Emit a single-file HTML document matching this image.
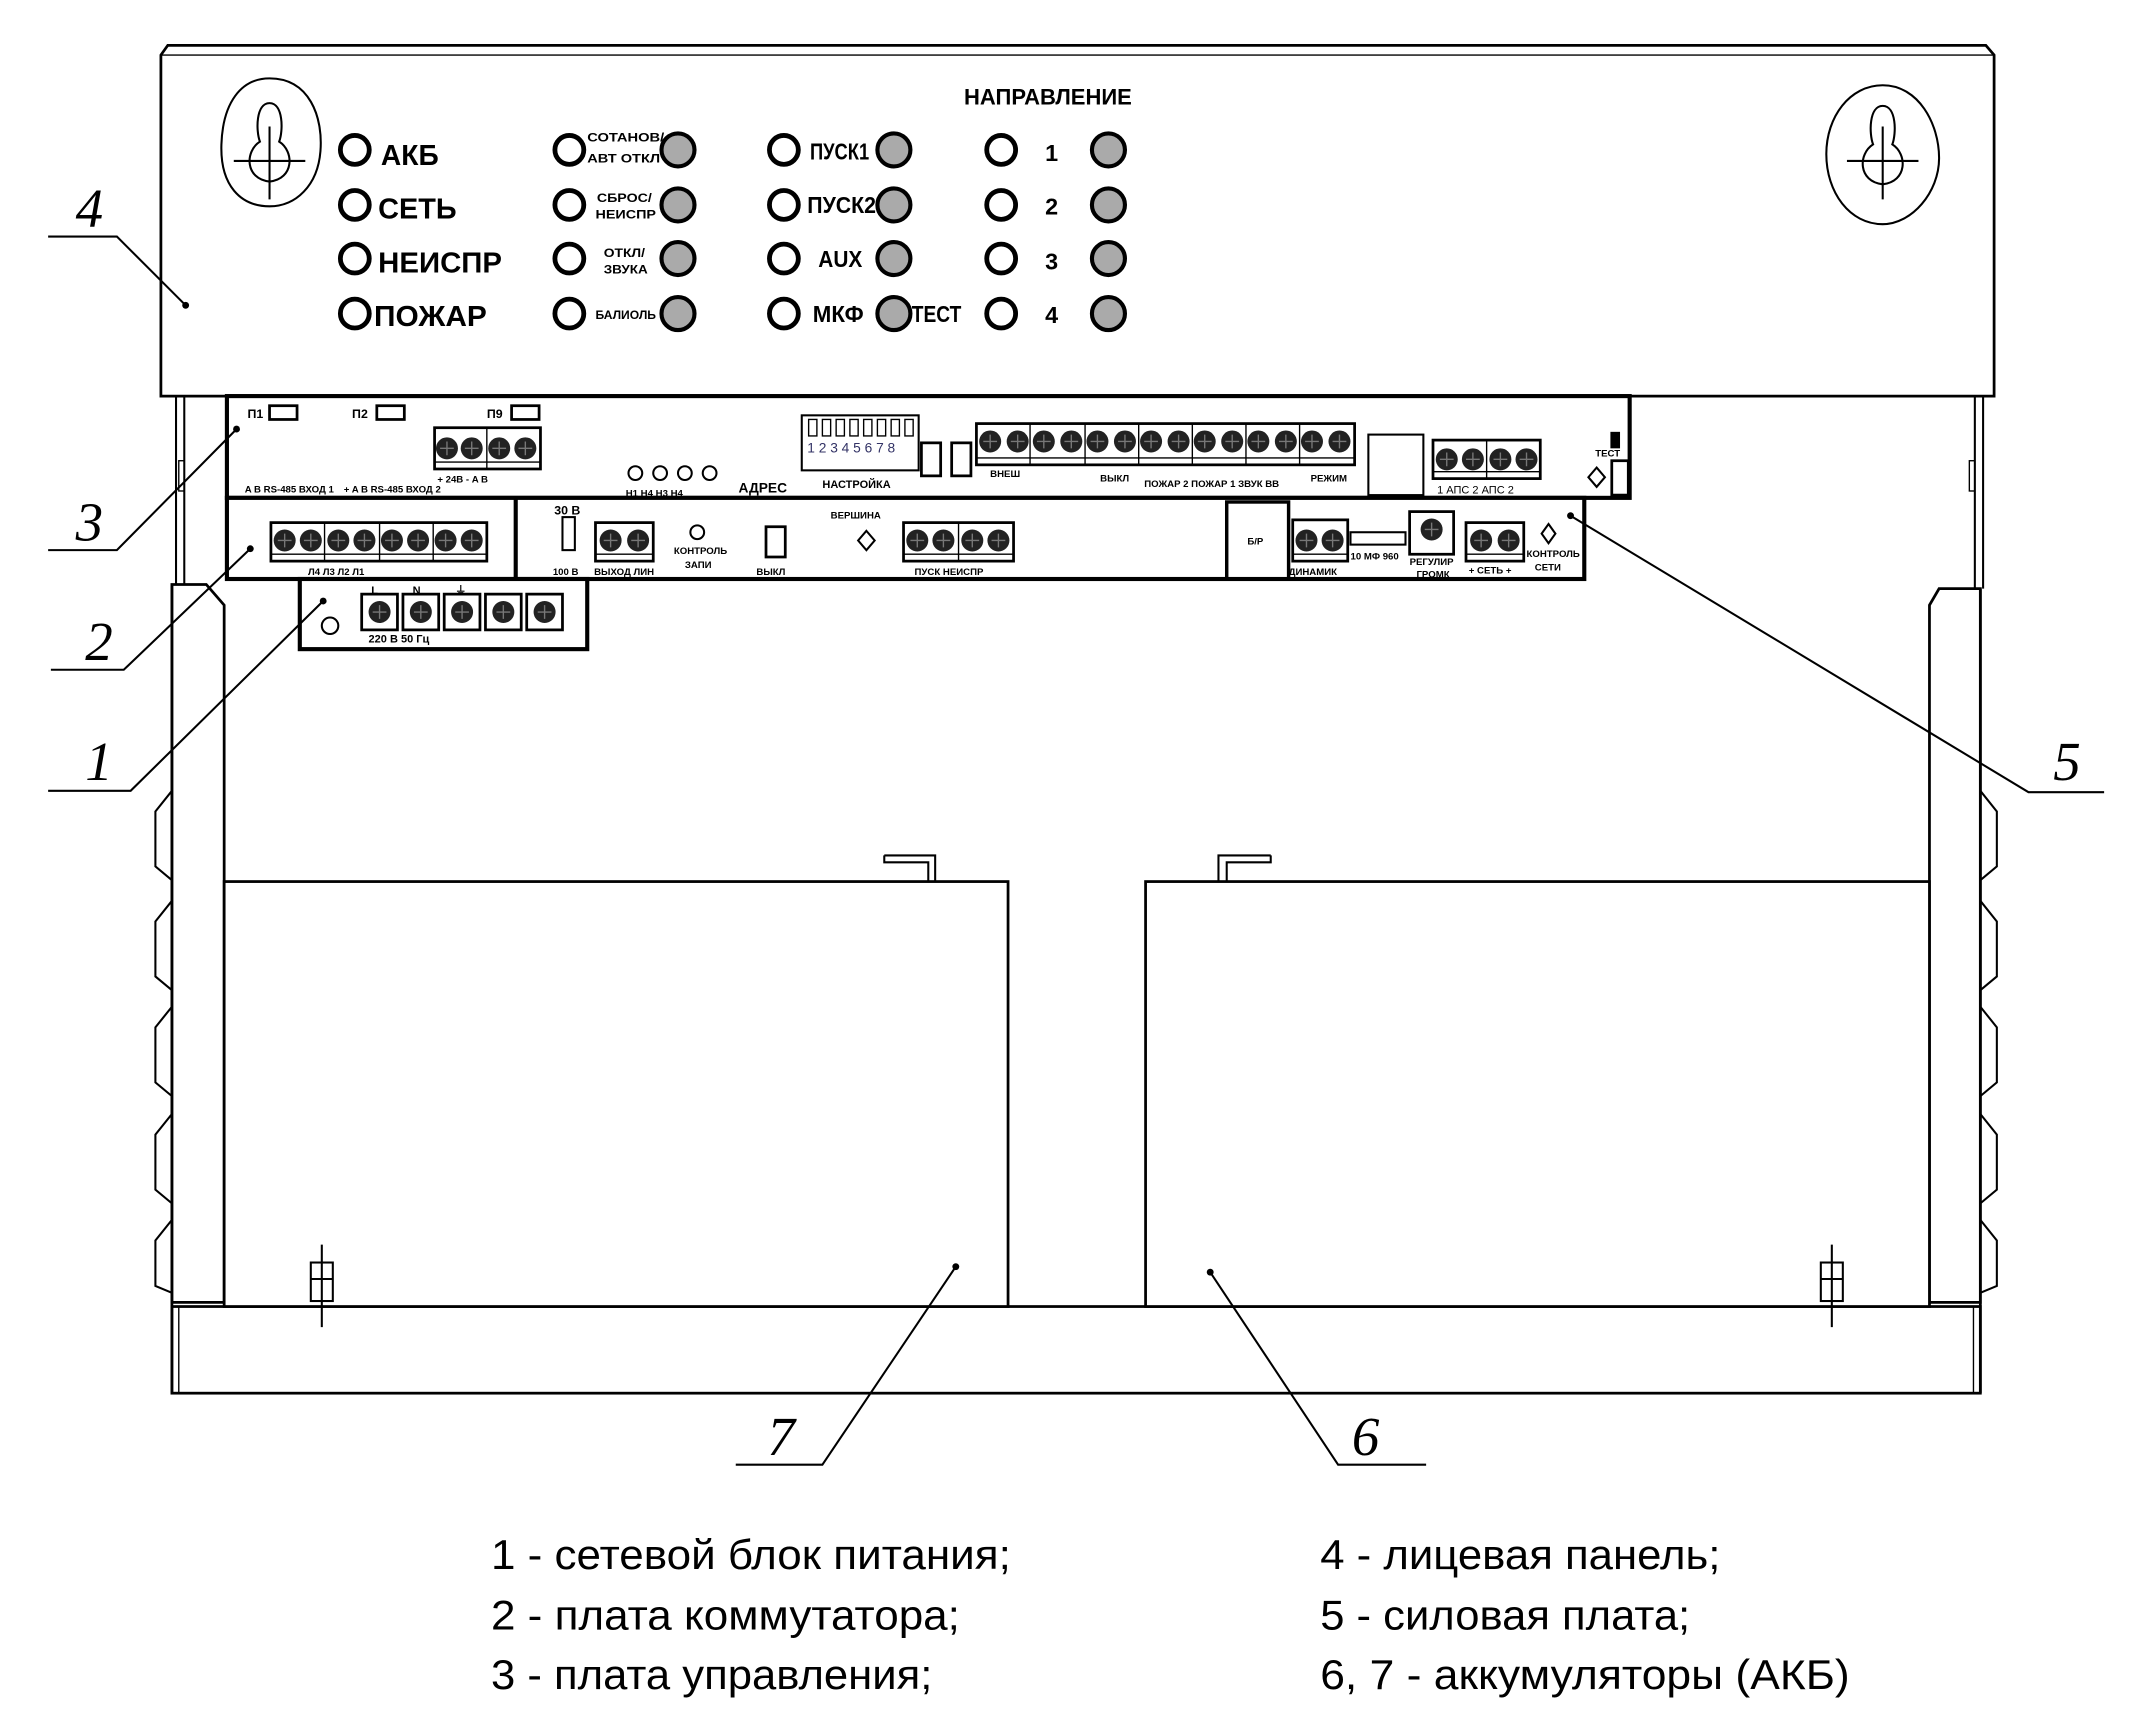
<!DOCTYPE html>
<html><head><meta charset="utf-8"><style>
html,body{margin:0;padding:0;background:#fff}
svg{display:block}
text{font-family:"Liberation Sans","DejaVu Sans",sans-serif}
.b{font-weight:bold}
.n{font-family:"Liberation Serif",serif;font-style:italic;font-size:40px}
.lg{font-size:30px}
</style></head><body>
<svg width="2155" height="1726" viewBox="0 0 1567 1255" preserveAspectRatio="none" xmlns="http://www.w3.org/2000/svg">
<defs>
<g id="s"><circle r="8" fill="#222"/><path d="M-5 0H5M0 -5V5" stroke="#777" stroke-width="1"/></g>
<g id="led"><circle r="10.5" fill="#fff" stroke="#000" stroke-width="3.5"/></g>
<g id="gled"><circle r="12" fill="#aaa" stroke="#000" stroke-width="3"/></g>
</defs>
<g fill="none" stroke="#000" stroke-width="2">
<path d="M128 288V425M134 288V425M1436 288V428M1442 288V428" stroke-width="1.5"/>
<rect x="130" y="335" width="4" height="22" stroke-width="1"/>
<rect x="1432" y="335" width="4" height="22" stroke-width="1"/>
<path d="M125 425H150L163 440V947H125Z"/>
<path d="M1440 428H1410L1403 440V947H1440Z"/>
<path d="M125 425V1013M1440 428V1013"/>
<path d="M125 575L113 590V630L125 640M125 655L113 670V710L125 720M125 732L113 747V787L125 797M125 810L113 825V865L125 875M125 887L113 902V935L125 940" stroke-width="1.5"/>
<path d="M1440 575L1452 590V630L1440 640M1440 655L1452 670V710L1440 720M1440 732L1452 747V787L1440 797M1440 810L1452 825V865L1440 875M1440 887L1452 902V935L1440 940" stroke-width="1.5"/>
<rect x="125" y="950" width="1315" height="63"/>
<path d="M130 950V1013M1435 950V1013" stroke-width="1"/>
<rect x="163" y="641" width="570" height="309" fill="#fff"/>
<rect x="833" y="641" width="570" height="309" fill="#fff"/>
<path d="M643 622H680V641M643 622V627H675V641" stroke-width="1.5"/>
<path d="M924 622H886V641M924 622V627H892V641" stroke-width="1.5"/>
<rect x="226" y="918" width="16" height="28" stroke-width="1.5"/>
<path d="M234 905V965M226 930H242" stroke-width="1.5"/>
<rect x="1324" y="918" width="16" height="28" stroke-width="1.5"/>
<path d="M1332 905V965M1324 930H1340" stroke-width="1.5"/>
<path d="M117 288V40L122 33H1444L1450 40V288Z" fill="#fff"/>
<path d="M117 40H1450" stroke-width="1"/>
<path d="M196 57C225 57 235 85 233 110C231 135 215 150 196 150C175 150 160 135 161 105C162 75 175 57 196 57Z" stroke-width="1.5"/>
<path d="M196 75C186 75 186 95 189 103C178 110 178 130 196 132C214 130 214 110 203 103C206 95 206 75 196 75Z" stroke-width="1.5"/>
<path d="M170 117H222M196 92V145" stroke-width="1.5"/>
<path d="M1369 62C1395 62 1410 90 1410 115C1410 140 1390 163 1369 163C1345 163 1328 140 1328 112C1328 85 1345 62 1369 62Z" stroke-width="1.5"/>
<path d="M1369 77C1359 77 1359 97 1362 105C1351 112 1351 132 1369 134C1387 132 1387 112 1376 105C1379 97 1379 77 1369 77Z" stroke-width="1.5"/>
<path d="M1343 117H1395M1369 92V145" stroke-width="1.5"/>
<rect x="165" y="288" width="1020" height="74" fill="#fff" stroke-width="3"/>
<rect x="165" y="362" width="987" height="59" fill="#fff" stroke-width="3"/>
<path d="M375 362V421" stroke-width="3"/>
<rect x="892" y="365" width="45" height="56" stroke-width="2.5"/>
<rect x="218" y="421" width="209" height="51" fill="#fff" stroke-width="3"/>
<g stroke-width="1.5">
<path d="M35 172H85L135 222"/>
<path d="M35 400H85L172 312"/>
<path d="M37 487H90L182 399"/>
<path d="M35 575H95L235 437"/>
<path d="M1530 576H1475L1142 375"/>
<path d="M535 1065H598L695 921"/>
<path d="M1037 1065H973L880 925"/>
</g>
</g>
<g fill="#000">
<circle cx="135" cy="222" r="2.5"/><circle cx="172" cy="312" r="2.5"/><circle cx="182" cy="399" r="2.5"/><circle cx="235" cy="437" r="2.5"/><circle cx="1142" cy="375" r="2.5"/><circle cx="695" cy="921" r="2.5"/><circle cx="880" cy="925" r="2.5"/>
</g>
<text class="n" x="55" y="165">4</text>
<text class="n" x="55" y="393">3</text>
<text class="n" x="62" y="480">2</text>
<text class="n" x="62" y="567">1</text>
<text class="n" x="1493" y="567">5</text>
<text class="n" x="558" y="1058">7</text>
<text class="n" x="983" y="1058">6</text>
<g>
<use href="#led" x="258" y="109"/><use href="#led" x="258" y="149"/><use href="#led" x="258" y="188"/><use href="#led" x="258" y="228"/>
<use href="#led" x="414" y="109"/><use href="#led" x="414" y="149"/><use href="#led" x="414" y="188"/><use href="#led" x="414" y="228"/>
<use href="#gled" x="493" y="109"/><use href="#gled" x="493" y="149"/><use href="#gled" x="493" y="188"/><use href="#gled" x="493" y="228"/>
<use href="#led" x="570" y="109"/><use href="#led" x="570" y="149"/><use href="#led" x="570" y="188"/><use href="#led" x="570" y="228"/>
<use href="#gled" x="650" y="109"/><use href="#gled" x="650" y="149"/><use href="#gled" x="650" y="188"/><use href="#gled" x="650" y="228"/>
<use href="#led" x="728" y="109"/><use href="#led" x="728" y="149"/><use href="#led" x="728" y="188"/><use href="#led" x="728" y="228"/>
<use href="#gled" x="806" y="109"/><use href="#gled" x="806" y="149"/><use href="#gled" x="806" y="188"/><use href="#gled" x="806" y="228"/>
</g>
<g class="b" font-size="21">
<text x="277" y="120" textLength="42" lengthAdjust="spacingAndGlyphs">АКБ</text>
<text x="275" y="159" textLength="57" lengthAdjust="spacingAndGlyphs">СЕТЬ</text>
<text x="275" y="198" textLength="90" lengthAdjust="spacingAndGlyphs">НЕИСПР</text>
<text x="272" y="237" textLength="82" lengthAdjust="spacingAndGlyphs">ПОЖАР</text>
</g>
<g class="b" font-size="9">
<text x="427" y="103" textLength="56" lengthAdjust="spacingAndGlyphs">СОТАНОВ/</text>
<text x="427" y="118" textLength="53" lengthAdjust="spacingAndGlyphs">АВТ ОТКЛ</text>
<text x="434" y="147" textLength="40" lengthAdjust="spacingAndGlyphs">СБРОС/</text>
<text x="433" y="159" textLength="44" lengthAdjust="spacingAndGlyphs">НЕИСПР</text>
<text x="439" y="187" textLength="30" lengthAdjust="spacingAndGlyphs">ОТКЛ/</text>
<text x="439" y="199" textLength="32" lengthAdjust="spacingAndGlyphs">ЗВУКА</text>
<text x="433" y="232" textLength="44" lengthAdjust="spacingAndGlyphs">БАЛИОЛЬ</text>
</g>
<g class="b" font-size="17">
<text x="589" y="116" textLength="43" lengthAdjust="spacingAndGlyphs">ПУСК1</text>
<text x="587" y="155" textLength="50" lengthAdjust="spacingAndGlyphs">ПУСК2</text>
<text x="595" y="194" textLength="32" lengthAdjust="spacingAndGlyphs">AUX</text>
<text x="591" y="234" textLength="37" lengthAdjust="spacingAndGlyphs">МКФ</text>
<text x="663" y="234" textLength="36" lengthAdjust="spacingAndGlyphs">ТЕСТ</text>
<text x="760" y="117">1</text><text x="760" y="156">2</text><text x="760" y="196">3</text><text x="760" y="235">4</text>
<text x="701" y="76" font-size="16" textLength="122" lengthAdjust="spacingAndGlyphs">НАПРАВЛЕНИЕ</text>
</g>
<g class="b" font-size="9" fill="#000">
<text x="180" y="304">П1</text><text x="256" y="304">П2</text><text x="354" y="304">П9</text>
<text x="178" y="358" font-size="7">A  B RS-485 ВХОД 1</text>
<text x="250" y="358" font-size="7">+ A  B RS-485 ВХОД 2</text>
<text x="318" y="351" font-size="7">+ 24В -   A  B</text>
<text x="455" y="361" font-size="7">Н1 Н4 Н3 Н4</text>
<text x="537" y="358" font-size="10">АДРЕС</text>
<text x="598" y="355" font-size="8">НАСТРОЙКА</text>
<text x="720" y="347" font-size="7">ВНЕШ</text>
<text x="800" y="350" font-size="7">ВЫКЛ</text>
<text x="832" y="354" font-size="7">ПОЖАР 2  ПОЖАР 1  ЗВУК ВВ</text>
<text x="953" y="350" font-size="7">РЕЖИМ</text>
<text x="1005" y="342" font-size="7" font-weight="normal">SD</text>
<text x="1000" y="352" font-size="7" font-weight="normal">КАРТА</text>
<text x="1045" y="359" font-size="8" font-weight="normal">1 АПС 2  АПС 2</text>
<text x="1160" y="332" font-size="7">ТЕСТ</text>
</g>
<g fill="#fff" stroke="#000" stroke-width="2">
<rect x="196" y="295" width="20" height="10"/><rect x="274" y="295" width="20" height="10"/><rect x="372" y="295" width="20" height="10"/>
<rect x="316" y="311" width="77" height="30"/><path d="M354 311V341M316 336H393" stroke-width="1"/>
<rect x="583" y="302" width="85" height="40" stroke-width="1.5"/>
<rect x="670" y="322" width="14" height="24"/><rect x="692" y="322" width="14" height="24"/>
<rect x="710" y="308" width="275" height="30"/>
<path d="M710 333H985M749 308V338M789 308V338M828 308V338M867 308V338M906 308V338M945 308V338" stroke-width="1"/>
<rect x="995" y="316" width="40" height="44" stroke-width="1.5"/>
<rect x="1042" y="320" width="78" height="28"/><path d="M1081 320V348M1042 343H1120" stroke-width="1"/>
<rect x="1172" y="335" width="12" height="25"/>
<rect x="1172" y="315" width="5" height="10" fill="#000"/>
</g>
<g fill="#fff" stroke="#000" stroke-width="1.5">
<circle cx="462" cy="344" r="5"/><circle cx="480" cy="344" r="5"/><circle cx="498" cy="344" r="5"/><circle cx="516" cy="344" r="5"/>
<path d="M1161 340L1167 347L1161 354L1155 347Z"/>
<path d="M588 305h6v12h-6zM598 305h6v12h-6zM608 305h6v12h-6zM618 305h6v12h-6zM628 305h6v12h-6zM638 305h6v12h-6zM648 305h6v12h-6zM658 305h6v12h-6z" stroke-width="1"/>
</g>
<text x="587" y="329" font-size="10" fill="#336">1 2 3 4 5 6 7 8</text>
<g>
<use href="#s" x="325" y="326"/><use href="#s" x="343" y="326"/><use href="#s" x="363" y="326"/><use href="#s" x="382" y="326"/>
<use href="#s" x="720" y="321"/><use href="#s" x="740" y="321"/><use href="#s" x="759" y="321"/><use href="#s" x="779" y="321"/><use href="#s" x="798" y="321"/><use href="#s" x="818" y="321"/><use href="#s" x="837" y="321"/><use href="#s" x="857" y="321"/><use href="#s" x="876" y="321"/><use href="#s" x="896" y="321"/><use href="#s" x="915" y="321"/><use href="#s" x="935" y="321"/><use href="#s" x="954" y="321"/><use href="#s" x="974" y="321"/>
<use href="#s" x="1052" y="334"/><use href="#s" x="1071" y="334"/><use href="#s" x="1091" y="334"/><use href="#s" x="1110" y="334"/>
</g>
<g fill="#fff" stroke="#000" stroke-width="2">
<rect x="197" y="380" width="157" height="28"/><path d="M236 380V408M276 380V408M315 380V408M197 403H354" stroke-width="1"/>
<rect x="409" y="376" width="9" height="24" stroke-width="1.5"/>
<rect x="433" y="380" width="42" height="28"/><path d="M433 403H475" stroke-width="1"/>
<circle cx="507" cy="387" r="5" stroke-width="1.5"/>
<rect x="557" y="383" width="14" height="22"/>
<path d="M630 386L636 393L630 400L624 393Z" stroke-width="1.5"/>
<rect x="657" y="380" width="80" height="28"/><path d="M697 380V408M657 403H737" stroke-width="1"/>
<rect x="940" y="378" width="40" height="30"/><path d="M940 403H980" stroke-width="1"/>
<rect x="982" y="387" width="40" height="9" stroke-width="1.5"/>
<rect x="1025" y="372" width="32" height="31"/>
<rect x="1066" y="380" width="42" height="28"/><path d="M1066 403H1108" stroke-width="1"/>
<path d="M1126 381L1131 388L1126 395L1121 388Z" stroke-width="1.5"/>
</g>
<g>
<use href="#s" x="207" y="393"/><use href="#s" x="226" y="393"/><use href="#s" x="246" y="393"/><use href="#s" x="265" y="393"/><use href="#s" x="285" y="393"/><use href="#s" x="304" y="393"/><use href="#s" x="324" y="393"/><use href="#s" x="343" y="393"/>
<use href="#s" x="444" y="393"/><use href="#s" x="464" y="393"/>
<use href="#s" x="667" y="393"/><use href="#s" x="686" y="393"/><use href="#s" x="707" y="393"/><use href="#s" x="726" y="393"/>
<use href="#s" x="950" y="393"/><use href="#s" x="969" y="393"/>
<use href="#s" x="1041" y="385"/>
<use href="#s" x="1077" y="393"/><use href="#s" x="1097" y="393"/>
</g>
<g class="b" font-size="7" fill="#000">
<text x="224" y="418">Л4   Л3   Л2   Л1</text>
<text x="403" y="374" font-size="9">30 В</text>
<text x="402" y="418">100 В</text>
<text x="432" y="418">ВЫХОД ЛИН</text>
<text x="490" y="403">КОНТРОЛЬ</text><text x="498" y="413">ЗАПИ</text>
<text x="550" y="418">ВЫКЛ</text>
<text x="604" y="377">ВЕРШИНА</text>
<text x="665" y="418">ПУСК    НЕИСПР</text>
<text x="907" y="396">Б/Р</text>
<text x="937" y="418">ДИНАМИК</text>
<text x="982" y="407">10 МФ 960</text>
<text x="1025" y="411">РЕГУЛИР</text><text x="1030" y="420">ГРОМК</text>
<text x="1068" y="417">+ СЕТЬ +</text>
<text x="1110" y="405">КОНТРОЛЬ</text><text x="1116" y="415">СЕТИ</text>
</g>
<g fill="#fff" stroke="#000" stroke-width="2">
<circle cx="240" cy="455" r="6" stroke-width="1.5"/>
<rect x="263" y="432" width="26" height="26"/><rect x="293" y="432" width="26" height="26"/><rect x="323" y="432" width="26" height="26"/><rect x="353" y="432" width="26" height="26"/><rect x="383" y="432" width="26" height="26"/>
</g>
<g><use href="#s" x="276" y="445"/><use href="#s" x="306" y="445"/><use href="#s" x="336" y="445"/><use href="#s" x="366" y="445"/><use href="#s" x="396" y="445"/></g>
<g class="b" font-size="8" fill="#000">
<text x="270" y="432">L</text><text x="300" y="432">N</text><text x="331" y="432">⏚</text>
<text x="268" y="467">220 В   50 Гц</text>
</g>
<g class="lg" fill="#000">
<text x="357" y="1141" textLength="378" lengthAdjust="spacingAndGlyphs">1 - сетевой блок питания;</text>
<text x="357" y="1185" textLength="341" lengthAdjust="spacingAndGlyphs">2 - плата коммутатора;</text>
<text x="357" y="1228" textLength="321" lengthAdjust="spacingAndGlyphs">3 - плата управления;</text>
<text x="960" y="1141" textLength="291" lengthAdjust="spacingAndGlyphs">4 - лицевая панель;</text>
<text x="960" y="1185" textLength="269" lengthAdjust="spacingAndGlyphs">5 - силовая плата;</text>
<text x="960" y="1228" textLength="385" lengthAdjust="spacingAndGlyphs">6, 7 - аккумуляторы (АКБ)</text>
</g>
</svg>
</body></html>
